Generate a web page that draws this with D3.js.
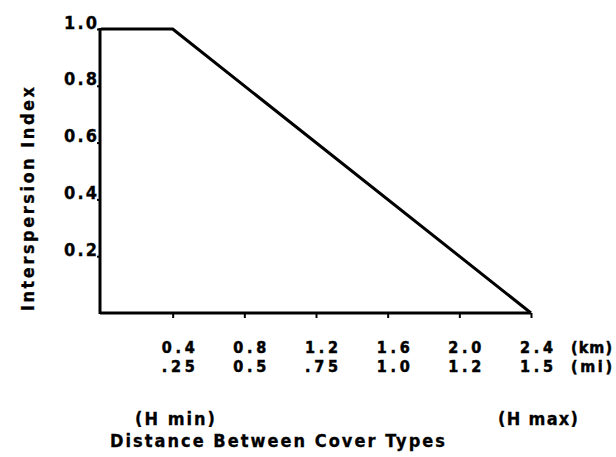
<!DOCTYPE html>
<html>
<head>
<meta charset="utf-8">
<script src="https://cdn.jsdelivr.net/npm/d3@7"></script>
<style>
  html, body { margin: 0; padding: 0; background: #fff; }
  svg text { font-family: "DejaVu Sans", "Liberation Sans", sans-serif; font-stretch: condensed; font-weight: bold; font-size: 18px; fill: #000; stroke: #000; stroke-width: 0.3px; }
  svg text.tk { font-size: 16px; stroke-width: 0.5px; }
</style>
</head>
<body>
<svg id="chart" width="616" height="457"></svg>
<script>
// Data
const kmTicks = [0.4, 0.8, 1.2, 1.6, 2.0, 2.4];
const kmLabels = ["0.4", "0.8", "1.2", "1.6", "2.0", "2.4"];
const miLabels = [".25", "0.5", ".75", "1.0", "1.2", "1.5"];
const yTicks = [0.2, 0.4, 0.6, 0.8, 1.0];
const yLabels = ["0.2", "0.4", "0.6", "0.8", "1.0"];
const curveDistance = [0, 0.4, 2.4];
const curveIndex = [1.0, 1.0, 0.0];

const svg = d3.select("#chart");
const x = d3.scaleLinear().domain([0, 2.4]).range([101, 531]);
const y = d3.scaleLinear().domain([0, 1]).range([313, 29]);

function fit(sel, len) {
  sel.attr("textLength", len).attr("lengthAdjust", "spacing");
}

// X axis
const xAxis = d3.axisBottom(x)
  .tickValues(kmTicks)
  .tickSize(5)
  .tickSizeOuter(0)
  .tickFormat((d, i) => kmLabels[i]);
const gx = svg.append("g").attr("transform", `translate(0,${y(0)})`).call(xAxis);
gx.attr("font-size", null).attr("font-family", null);
gx.select(".domain").attr("stroke", "#000").attr("stroke-width", 3)
  .attr("d", `M${x(0) - 1},0H${x(2.4)}`);
gx.selectAll(".tick line").attr("stroke", "#000").attr("stroke-width", 2);
gx.selectAll(".tick text").attr("class", "tk")
  .attr("y", 40).attr("dy", 0).attr("dx", 5).attr("text-anchor", "middle").call(fit, 33);
gx.selectAll(".tick").append("text").attr("class", "tk")
  .attr("y", 59).attr("dx", 5).attr("text-anchor", "middle").call(fit, 33)
  .text((d, i) => miLabels[i]);

// Y axis
const yAxis = d3.axisLeft(y)
  .tickValues(yTicks)
  .tickSize(3)
  .tickSizeOuter(0)
  .tickFormat((d, i) => yLabels[i]);
const gy = svg.append("g").attr("transform", `translate(${x(0) - 1},0)`).call(yAxis);
gy.attr("font-size", null).attr("font-family", null);
gy.select(".domain").attr("stroke", "#000").attr("stroke-width", 3)
  .attr("d", `M0,${y(0) + 1}V${y(1) - 1}`);
gy.selectAll(".tick line").attr("stroke", "#000").attr("stroke-width", 2);
gy.selectAll(".tick text").attr("x", -3).attr("dy", -1).attr("text-anchor", "end").call(fit, 33);

// Units
svg.append("text").attr("class", "tk").attr("x", x(2.4) + 40).attr("y", y(0) + 40).call(fit, 41).text("(km)");
svg.append("text").attr("class", "tk").attr("x", x(2.4) + 40).attr("y", y(0) + 59).call(fit, 41).text("(mi)");

// Curve
const pts = curveDistance.map((d, i) => [d, curveIndex[i]]);
svg.append("path")
  .datum(pts)
  .attr("fill", "none").attr("stroke", "#000").attr("stroke-width", 3)
  .attr("stroke-linejoin", "round")
  .attr("d", d3.line().x(d => x(d[0])).y(d => y(d[1])));

// Labels
svg.append("text").attr("transform", "translate(34,199) rotate(-90)")
  .attr("text-anchor", "middle").call(fit, 224).text("Interspersion Index");
svg.append("text").attr("x", 135).attr("y", 425).call(fit, 80).text("(H min)");
svg.append("text").attr("x", 498).attr("y", 425).call(fit, 80).text("(H max)");
svg.append("text").attr("x", 110).attr("y", 447).call(fit, 335).text("Distance Between Cover Types");
</script>
</body>
</html>
